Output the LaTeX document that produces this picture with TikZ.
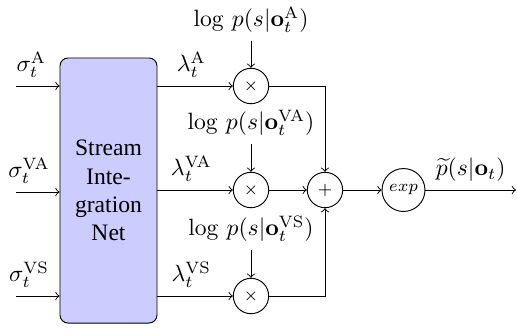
\documentclass[tikz,border=0pt]{standalone}
\usepackage[no-math]{fontspec}
\setmainfont{Liberation Serif}
\begin{document}
\begin{tikzpicture}[x=0.4237pt,y=-0.4237pt,
  netbox/.style={draw, fill=blue!20, rounded corners=3.4pt, minimum width=41.1pt, minimum height=112.3pt, align=center, inner sep=0pt},
  mult/.style={draw, circle, minimum size=15pt, inner sep=0pt, font=\scriptsize},
  expc/.style={draw, circle, minimum size=18.2pt, inner sep=0pt, font=\scriptsize},
  every path/.style={line width=0.4pt}]
\useasboundingbox (0,0) rectangle (517,333);
\node[netbox] (box) at (108.5,190.5) {\baselineskip=13.5pt Stream\\Inte-\\gration\\Net};
\node[mult] (mA) at (251,86) {$\times$};
\node[mult] (mVA) at (251,190) {$\times$};
\node[mult] (mVS) at (251,296) {$\times$};
\node[mult] (plus) at (325,190) {$+$};
\node[expc] (ex) at (403.5,190) {$exp$};
\node (lpA) at (251,20) {$\log\,p(s|\mathbf{o}_t^{\mathrm{A}})$};
\node (lpVA) at (251,123) {$\log\,p(s|\mathbf{o}_t^{\mathrm{VA}})$};
\node (lpVS) at (251,229) {$\log\,p(s|\mathbf{o}_t^{\mathrm{VS}})$};
\coordinate (inA) at (16,86);
\coordinate (inVA) at (16,192);
\coordinate (inVS) at (16,296);
\coordinate (outp) at (516,190);
\draw[->] (inA) -- (inA -| box.west) node[pos=0.35, above] {$\sigma_t^{\mathrm{A}}$};
\draw[->] (inVA) -- (inVA -| box.west) node[pos=0.3, above] {$\sigma_t^{\mathrm{VA}}$};
\draw[->] (inVS) -- (inVS -| box.west) node[pos=0.3, above] {$\sigma_t^{\mathrm{VS}}$};
\draw[->] (mA -| box.east) -- (mA) node[pos=0.45, above] {$\lambda_t^{\mathrm{A}}$};
\draw[->] (mVA -| box.east) -- (mVA) node[pos=0.45, above] {$\lambda_t^{\mathrm{VA}}$};
\draw[->] (mVS -| box.east) -- (mVS) node[pos=0.45, above] {$\lambda_t^{\mathrm{VS}}$};
\draw[->] (lpA) -- (mA);
\draw[->] (lpVA) -- (mVA);
\draw[->] (lpVS) -- (mVS);
\draw[->] (mA) -| (plus);
\draw[->] (mVA) -- (plus);
\draw[->] (mVS) -| (plus);
\draw[->] (plus) -- (ex);
\draw[->] (ex) -- (outp) node[midway, above] {$\widetilde{p}(s|\mathbf{o}_t)$};
\end{tikzpicture}
\end{document}
